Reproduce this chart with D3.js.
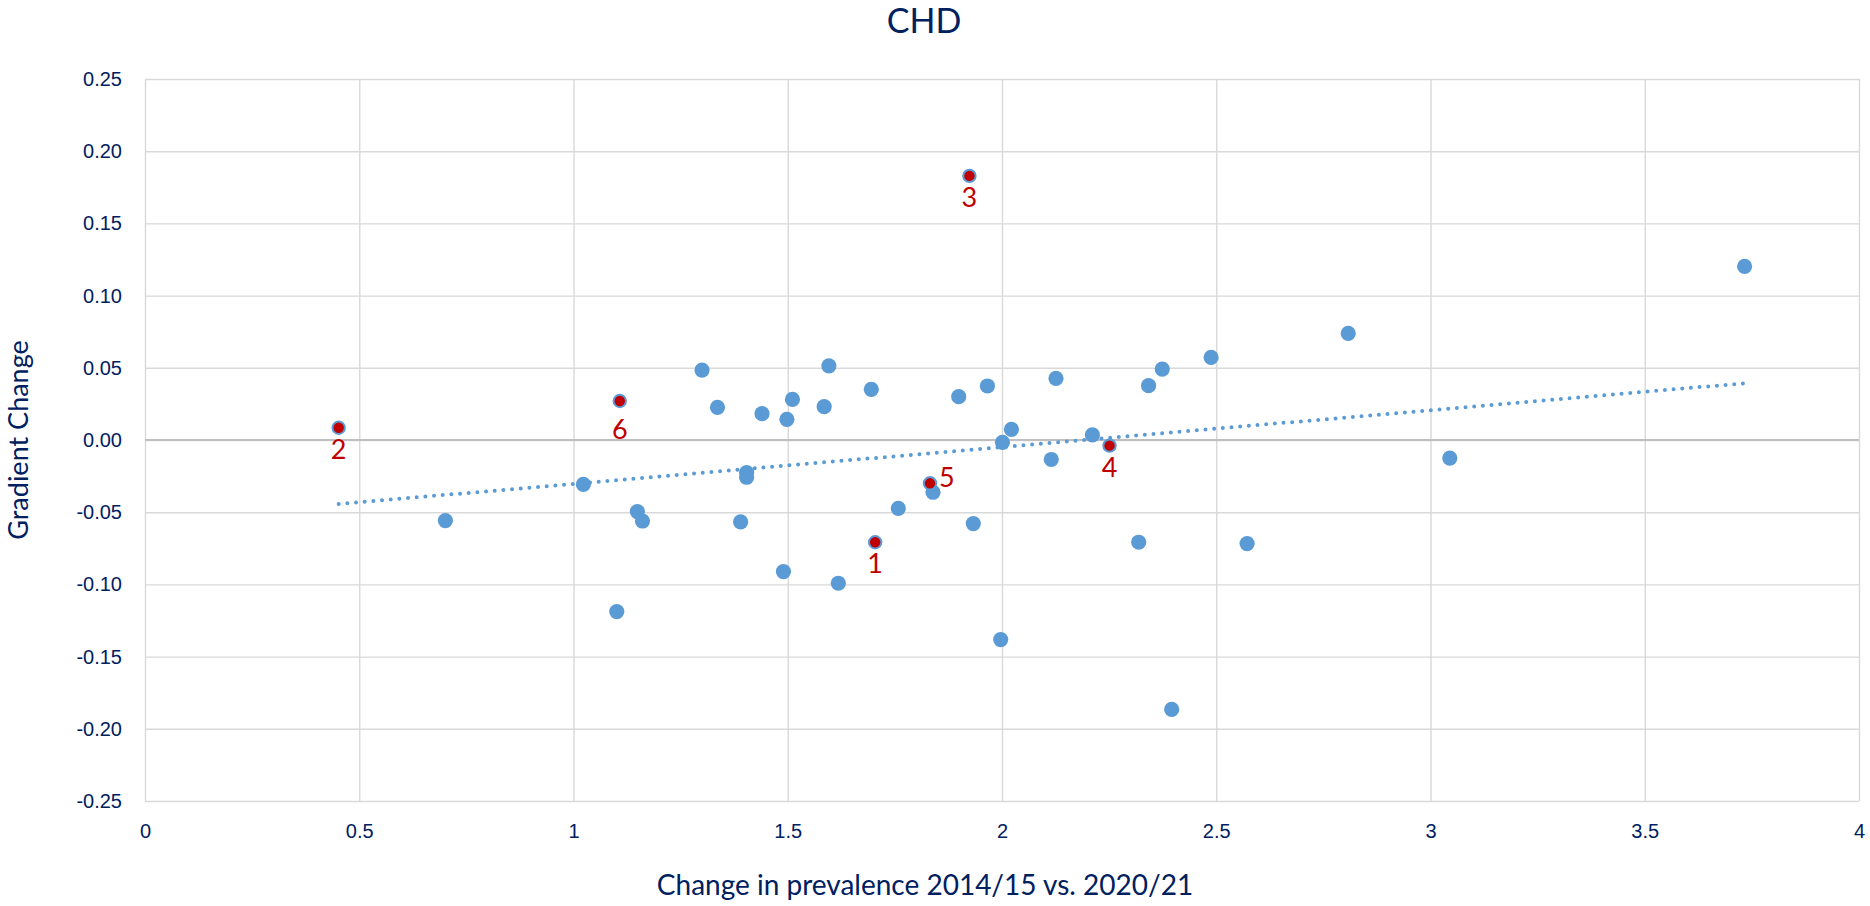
<!DOCTYPE html>
<html lang="en">
<head>
<meta charset="utf-8">
<title>CHD</title>
<script src="https://d3js.org/d3.v7.min.js"></script>
<style>
  html, body { margin: 0; padding: 0; background: #fff; }
  svg { display: block; font-family: Lato, "Open Sans", sans-serif; }
</style>
</head>
<body>
<div id="chart"></div>
<script>
// Data: change in prevalence (x) vs gradient change (y)
const prevalenceChange = [
  0.701, 1.023, 1.101, 1.149, 1.161, 1.300, 1.336, 1.390, 1.404, 1.404,
  1.440, 1.490, 1.498, 1.511, 1.585, 1.596, 1.618, 1.695, 1.758, 1.839,
  1.899, 1.933, 1.966, 1.997, 2.001, 2.022, 2.115, 2.126, 2.211, 2.319,
  2.342, 2.374, 2.396, 2.488, 2.572, 2.808, 3.045, 3.733,
  1.704, 0.452, 1.924, 2.251, 1.832, 1.108
];
const gradientChange = [
  -0.0558, -0.0307, -0.1188, -0.0496, -0.0561, 0.0484, 0.0226, -0.0567, -0.0226, -0.0258,
  0.0182, -0.0911, 0.0143, 0.0281, 0.0231, 0.0514, -0.0992, 0.0351, -0.0473, -0.0362,
  0.0300, -0.0579, 0.0374, -0.1382, -0.0016, 0.0074, -0.0135, 0.0427, 0.0035, -0.0708,
  0.0376, 0.0491, -0.1866, 0.0572, -0.0717, 0.0738, -0.0125, 0.1202,
  -0.0708, 0.0085, 0.1829, -0.0039, -0.0300, 0.0270
];
// highlighted points get a red marker and a number
const pointLabels = [
  "", "", "", "", "", "", "", "", "", "",
  "", "", "", "", "", "", "", "", "", "",
  "", "", "", "", "", "", "", "", "", "",
  "", "", "", "", "", "", "", "",
  "1", "2", "3", "4", "5", "6"
];
const xTicks = [0, 0.5, 1, 1.5, 2, 2.5, 3, 3.5, 4];
const yTicks = [-0.25, -0.20, -0.15, -0.10, -0.05, 0, 0.05, 0.10, 0.15, 0.20, 0.25];

const chartTitle = "CHD";
const xTitle = "Change in prevalence 2014/15 vs. 2020/21";
const yTitle = "Gradient Change";

// Layout
const W = 1870, H = 906;
const margin = { top: 79, right: 11, bottom: 105, left: 145 };
const width = W - margin.left - margin.right;
const height = H - margin.top - margin.bottom;
const navy = "#002060";
const blue = "#5B9BD5";
const red = "#C00000";

const data = prevalenceChange.map((x, i) => ({ x, y: gradientChange[i], label: pointLabels[i] }));

const svg = d3.select("#chart").append("svg")
  .attr("width", W)
  .attr("height", H);

const g = svg.append("g")
  .attr("transform", `translate(${margin.left},${margin.top})`);

const x = d3.scaleLinear().domain([0, 4]).range([0, width]);
const y = d3.scaleLinear().domain([-0.25, 0.25]).range([height, 0]);

// Gridlines + tick labels
const yAxis = g.append("g")
  .call(d3.axisLeft(y).tickValues(yTicks).tickSize(-width).tickPadding(23)
    .tickFormat(d => d.toFixed(2)));
const xAxis = g.append("g")
  .attr("transform", `translate(0,${height})`)
  .call(d3.axisBottom(x).tickValues(xTicks).tickSize(-height).tickPadding(23)
    .tickFormat(d3.format("")));

[xAxis, yAxis].forEach(ax => {
  ax.select(".domain").remove();
  ax.selectAll(".tick line").attr("stroke", "#d9d9d9").attr("stroke-width", 1.4);
  ax.selectAll(".tick text")
    .attr("fill", navy)
    .style("font-size", "20px");
});

// zero line drawn darker, like the horizontal axis
g.append("line")
  .attr("x1", 0).attr("x2", width)
  .attr("y1", y(0)).attr("y2", y(0))
  .attr("stroke", "#bfbfbf")
  .attr("stroke-width", 1.8);

// Linear trendline (least squares over all points)
const mx = d3.mean(data, d => d.x), my = d3.mean(data, d => d.y);
const slope = d3.sum(data, d => (d.x - mx) * (d.y - my)) / d3.sum(data, d => (d.x - mx) ** 2);
const intercept = my - slope * mx;
const [xmin, xmax] = d3.extent(data, d => d.x);

g.append("line")
  .attr("x1", x(xmin)).attr("y1", y(intercept + slope * xmin))
  .attr("x2", x(xmax)).attr("y2", y(intercept + slope * xmax))
  .attr("stroke", blue)
  .attr("stroke-width", 4)
  .attr("stroke-linecap", "round")
  .attr("stroke-dasharray", "0 8.7");

// Points
g.selectAll("circle.pt")
  .data(data)
  .enter()
  .append("circle")
  .attr("class", "pt")
  .attr("cx", d => x(d.x))
  .attr("cy", d => y(d.y))
  .attr("r", d => d.label ? 6.2 : 7.6)
  .attr("fill", d => d.label ? red : blue)
  .attr("stroke", d => d.label ? blue : "none")
  .attr("stroke-width", 2);

// Point labels: below the marker, "5" sits to the right
g.selectAll("text.lbl")
  .data(data.filter(d => d.label))
  .enter()
  .append("text")
  .attr("class", "lbl")
  .attr("x", d => d.label === "5" ? x(d.x) + 9 : x(d.x))
  .attr("y", d => d.label === "5" ? y(d.y) + 4 : y(d.y) + (d.label === "6" ? 38 : 31))
  .attr("text-anchor", d => d.label === "5" ? "start" : "middle")
  .attr("fill", red)
  .style("font-size", "27px")
  .text(d => d.label);

// Titles
svg.append("text")
  .attr("x", 924)
  .attr("y", 33)
  .attr("text-anchor", "middle")
  .attr("fill", navy)
  .style("font-size", "34px")
  .text(chartTitle);

svg.append("text")
  .attr("x", 925)
  .attr("y", 895)
  .attr("text-anchor", "middle")
  .attr("fill", navy)
  .style("font-size", "28px")
  .text(xTitle);

svg.append("text")
  .attr("transform", `translate(28,${margin.top + height / 2}) rotate(-90)`)
  .attr("text-anchor", "middle")
  .attr("fill", navy)
  .style("font-size", "27px")
  .text(yTitle);
</script>
</body>
</html>
